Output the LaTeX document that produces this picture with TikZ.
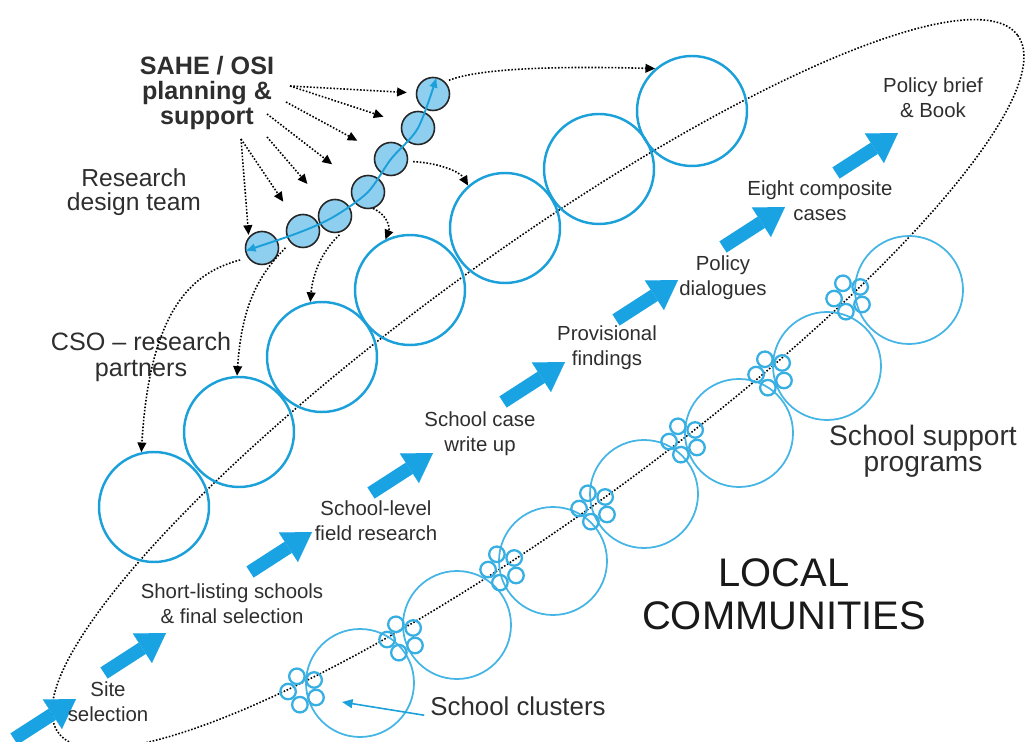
\documentclass[tikz,border=0pt]{standalone}
\usepackage{fontspec}
\setmainfont{Liberation Sans}
\usetikzlibrary{arrows.meta}
\definecolor{csoblue}{HTML}{1BA0DA}
\definecolor{commblue}{HTML}{45B5E5}
\definecolor{teamfill}{HTML}{8ECFF0}
\definecolor{stepblue}{HTML}{1AA3E2}
\definecolor{labelgray}{HTML}{2E2E2E}
\begin{document}
\begin{tikzpicture}[x=0.2mm, y=-0.2mm,
  cso/.style={circle, draw=csoblue, line width=1.4pt, minimum size=2.2cm, inner sep=0pt},
  community/.style={circle, draw=commblue, line width=1pt, minimum size=2.16cm, inner sep=0pt},
  team/.style={circle, draw=black!85, fill=teamfill, line width=0.9pt, minimum size=0.66cm, inner sep=0pt},
  school/.style={circle, draw=commblue!70!csoblue, line width=1.3pt, minimum size=0.31cm, inner sep=0pt},
  steplabel/.style={align=center, text=labelgray, font=\fontsize{11.6}{14.2}\selectfont},
  grouplabel/.style={align=center, text=labelgray, font=\fontsize{14.3}{15.3}\selectfont},
  planarrow/.style={densely dotted, line width=0.9pt, -{Triangle[length=5.5pt,width=5pt]}},
  stepflow/.style={draw=stepblue, line width=7.6pt, -{Triangle[length=16pt,width=20pt,line width=0.01pt]}},
  teamarc/.style={draw=csoblue, line width=1.1pt, {Latex[length=6pt,width=5pt]}-{Latex[length=6pt,width=5pt]}}
]
\useasboundingbox (0,0) rectangle (1026,742);
\clip (0,0) rectangle (1026,742);

% Outer boundary
\draw[densely dotted, line width=0.9pt, rotate around={36:(538,384)}] (538,384) ellipse (593 and 131);

% CSO research partner circles
\foreach \x/\y [count=\i] in {154/507, 239/432, 322/357, 410/290, 505/228, 599/169, 692/111}
  \node[cso] (cso\i) at (\x,\y) {};

% Community circles with school clusters
\foreach \x/\y [count=\i] in {360/683, 457/625, 553/561, 644/494, 739/433, 827/366, 909/290}
  \node[community] (comm\i) at (\x,\y) {};
\foreach \x/\y [count=\i] in {303/690, 402/638, 503/568, 594/507, 684/440, 771/373, 849/297}
  \foreach \a [count=\j] in {30,102,174,246,318}
    \path (\x,\y) ++(\a:15) node[school] (school\i-\j) {};

% Research design team circles
\foreach \x/\y [count=\i] in {433/94, 418/128, 391/159, 368/192, 335/216, 303/231, 262/248}
  \node[team] (team\i) at (\x,\y) {};
\draw[teamarc] plot[smooth] coordinates {(team7.190) (team6.center) (team5.center) (team4.center) (team3.center) (team2.center) (team1.78)};

% Steps
\foreach \x/\y in {14/739, 104/673, 250/572, 371/493, 503/402, 616/320, 723/247, 836/173}
  \draw[stepflow] (\x,\y) -- ++(62,-40);

% Labels
\node[grouplabel, font=\bfseries\fontsize{14.3}{14.3}\selectfont] (sahe) at (207,93) {SAHE / OSI\\planning \&\\support};
\node[grouplabel, font=\fontsize{14}{13.4}\selectfont] (designteam) at (134,192) {Research\\design team};
\node[grouplabel] (csopartners) at (141,357) {CSO -- research\\partners};
\node[steplabel] (site) at (108,702) {Site\\selection};
\node[steplabel] (shortlist) at (232,604) {Short-listing schools\\\& final selection};
\node[steplabel] (fieldres) at (376,521) {School-level\\field research};
\node[steplabel] (casewrite) at (480,434) {School case\\write up};
\node[steplabel] (provisional) at (607,348) {Provisional\\findings};
\node[steplabel] (dialogues) at (723,278) {Policy\\dialogues};
\node[steplabel] (composite) at (820,201) {Eight composite\\cases};
\node[steplabel] (brief) at (933,98) {Policy brief\\\& Book};
\node[grouplabel, font=\fontsize{16}{14.7}\selectfont] (supportprog) at (923,451) {School support\\programs};
\node[align=center, text=black!90, font=\fontsize{22.7}{24.4}\selectfont] (local) at (784,594) {LOCAL\\COMMUNITIES};
\node[text=labelgray, font=\fontsize{14.7}{15}\selectfont] (clusterlbl) at (518,706) {School clusters};

% Planning and support arrows
\coordinate (fanA) at (290,86);
\coordinate (fanB) at (286,102);
\coordinate (fanC) at (267,114);
\coordinate (fanD) at (267,137);
\coordinate (fanE) at (241,139);
\foreach \s/\t/\g in {fanA/team1/9, fanA/team2/19, fanB/team3/21, fanC/team4/28, fanD/team5/25, fanE/team6/18}
  \draw[planarrow, shorten >=\g*0.2mm] (\s) -- (\t);
\draw[planarrow, shorten >=0.4mm] (fanE) -- (team7.140);

% Team to partners
\draw[planarrow, shorten <=1.6mm] (team7.215) .. controls (195,272) and (150,305) .. (cso1.103);
\draw[planarrow, shorten <=1.4mm] (team6.223) .. controls (262,272) and (242,300) .. (cso2.92);
\draw[planarrow, shorten <=1.2mm] (team5.-59) .. controls (325,248) and (313,270) .. (cso3.102);
\draw[planarrow] (team4.-73) .. controls (388,215) and (390,228) .. (cso4.116);
\draw[planarrow, shorten <=1mm] (team3.-8) .. controls (440,163) and (460,172) .. (cso5.131);
\draw[planarrow, shorten <=0.8mm] (team1.45) .. controls (480,68) and (560,66) .. (cso7.131);

% Cluster pointer
\coordinate (clusterpt) at (342,702);
\draw[draw=csoblue, line width=0.9pt, -{Triangle[length=6pt,width=5pt]}] (clusterlbl.base west) -- (clusterpt);

\end{tikzpicture}
\end{document}
